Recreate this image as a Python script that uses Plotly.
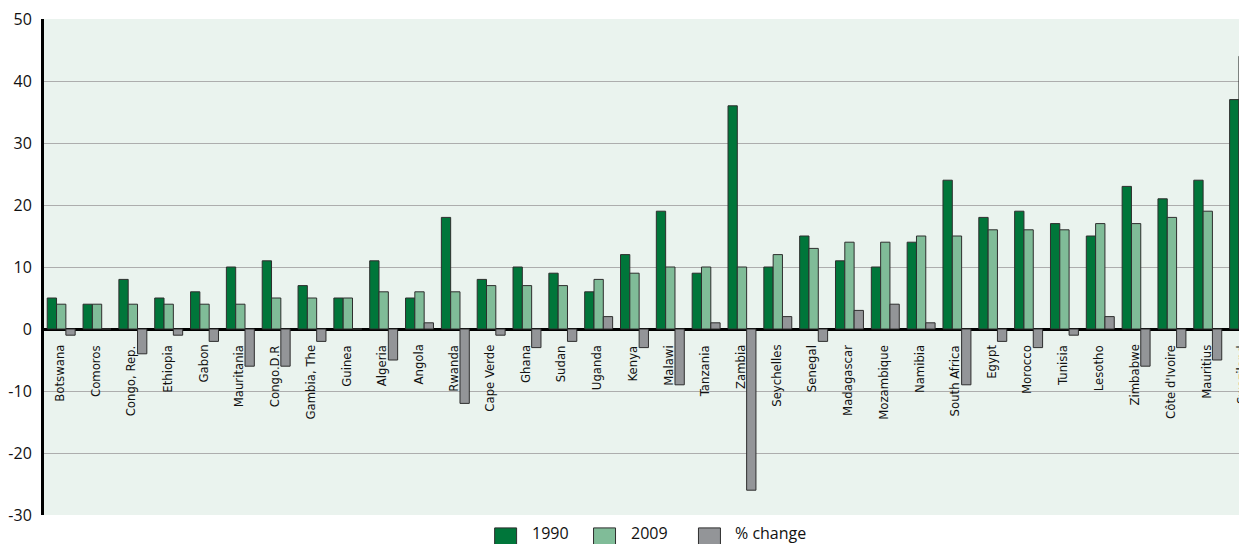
import plotly.graph_objects as go

countries = ["Botswana", "Comoros", "Congo, Rep.", "Ethiopia", "Gabon", "Mauritania",
             "Congo.D.R", "Gambia, The", "Guinea", "Algeria", "Angola", "Rwanda",
             "Cape Verde", "Ghana", "Sudan", "Uganda", "Kenya", "Malawi", "Tanzania",
             "Zambia", "Seychelles", "Senegal", "Madagascar", "Mozambique", "Namibia",
             "South Africa", "Egypt", "Morocco", "Tunisia", "Lesotho", "Zimbabwe",
             "Côte d'Ivoire", "Mauritius", "Swaziland"]
v1990 = [5, 4, 8, 5, 6, 10, 11, 7, 5, 11, 5, 18, 8, 10, 9, 6, 12, 19, 9, 36, 10, 15,
         11, 10, 14, 24, 18, 19, 17, 15, 23, 21, 24, 37]
v2009 = [4, 4, 4, 4, 4, 4, 5, 5, 5, 6, 6, 6, 7, 7, 7, 8, 9, 10, 10, 10, 12, 13,
         14, 14, 15, 15, 16, 16, 16, 17, 17, 18, 19, 44]
vchange = [-1, 0, -4, -1, -2, -6, -6, -2, 0, -5, 1, -12, -1, -3, -2, 2, -3, -9, 1, -26,
           2, -2, 3, 4, 1, -9, -2, -3, -1, 2, -6, -3, -5, 7]
series_names = ["1990", "2009", "% change"]
colors = ["#00763A", "#80BC98", "#939598"]
yticks = [-30, -20, -10, 0, 10, 20, 30, 40, 50]

# page body has an 8px default margin: compensate so the plot lands where the reference has it
OFF = 8
W, H = 1247 - OFF, 544 - OFF
ML, MR, MT, MB = 43 - OFF, 0, 16 - OFF, 29
PW = W - ML - MR
PH = H - MT - MB

fig = go.Figure()
for name, vals, col in zip(series_names, [v1990, v2009, vchange], colors):
    fig.add_trace(go.Bar(x=countries, y=vals, name=name,
                         marker=dict(color=col, line=dict(color="#2e2e2e", width=1)),
                         showlegend=False))

for c in countries:
    fig.add_annotation(x=c, y=0, xref="x", yref="y", text=c, textangle=-90,
                       showarrow=False, yanchor="top", xanchor="center",
                       yshift=-14, xshift=-2,
                       font=dict(family="Liberation Sans Narrow, DejaVu Sans Condensed, sans-serif",
                                 size=13, color="#111"))

# manual legend (page pixel positions converted to paper coords)
def px2paper_x(px):
    return (px - OFF - ML) / PW

def px2paper_y(py):
    return (H - MB - (py - OFF)) / PH

leg = [(494, 529), (593, 628), (698, 733)]
for (sx, tx), name, col in zip(leg, series_names, colors):
    fig.add_shape(type="rect", xref="paper", yref="paper",
                  x0=px2paper_x(sx), x1=px2paper_x(sx + 22),
                  y0=px2paper_y(528), y1=px2paper_y(551),
                  fillcolor=col, line=dict(color="#2e2e2e", width=1))
    fig.add_annotation(x=px2paper_x(tx), y=px2paper_y(533), xref="paper", yref="paper",
                       text=name, showarrow=False, xanchor="left", yanchor="middle",
                       font=dict(family="Open Sans, sans-serif", size=16, color="#111"))

fig.update_layout(
    width=W, height=H,
    margin=dict(l=ML, r=MR, t=MT, b=MB, pad=0),
    paper_bgcolor="white",
    plot_bgcolor="#EAF3EE",
    barmode="group",
    bargap=0.22,
    bargroupgap=0,
    font=dict(family="Open Sans, sans-serif", size=16, color="#111"),
    xaxis=dict(range=[-0.48, 33.095], showticklabels=False, showgrid=False,
               zeroline=False, showline=False, ticks=""),
    yaxis=dict(range=[-30, 50], tickvals=yticks, ticktext=[str(t) for t in yticks],
               showgrid=True, gridcolor="#ADADAD", gridwidth=1,
               zeroline=True, zerolinecolor="#000", zerolinewidth=3,
               showline=True, linecolor="#000", linewidth=3,
               ticks="", ticklabelstandoff=6, ticklabeloverflow="allow",
               tickfont=dict(family="Open Sans, sans-serif", size=16, color="#111")),
)

fig.write_html("out.html")
